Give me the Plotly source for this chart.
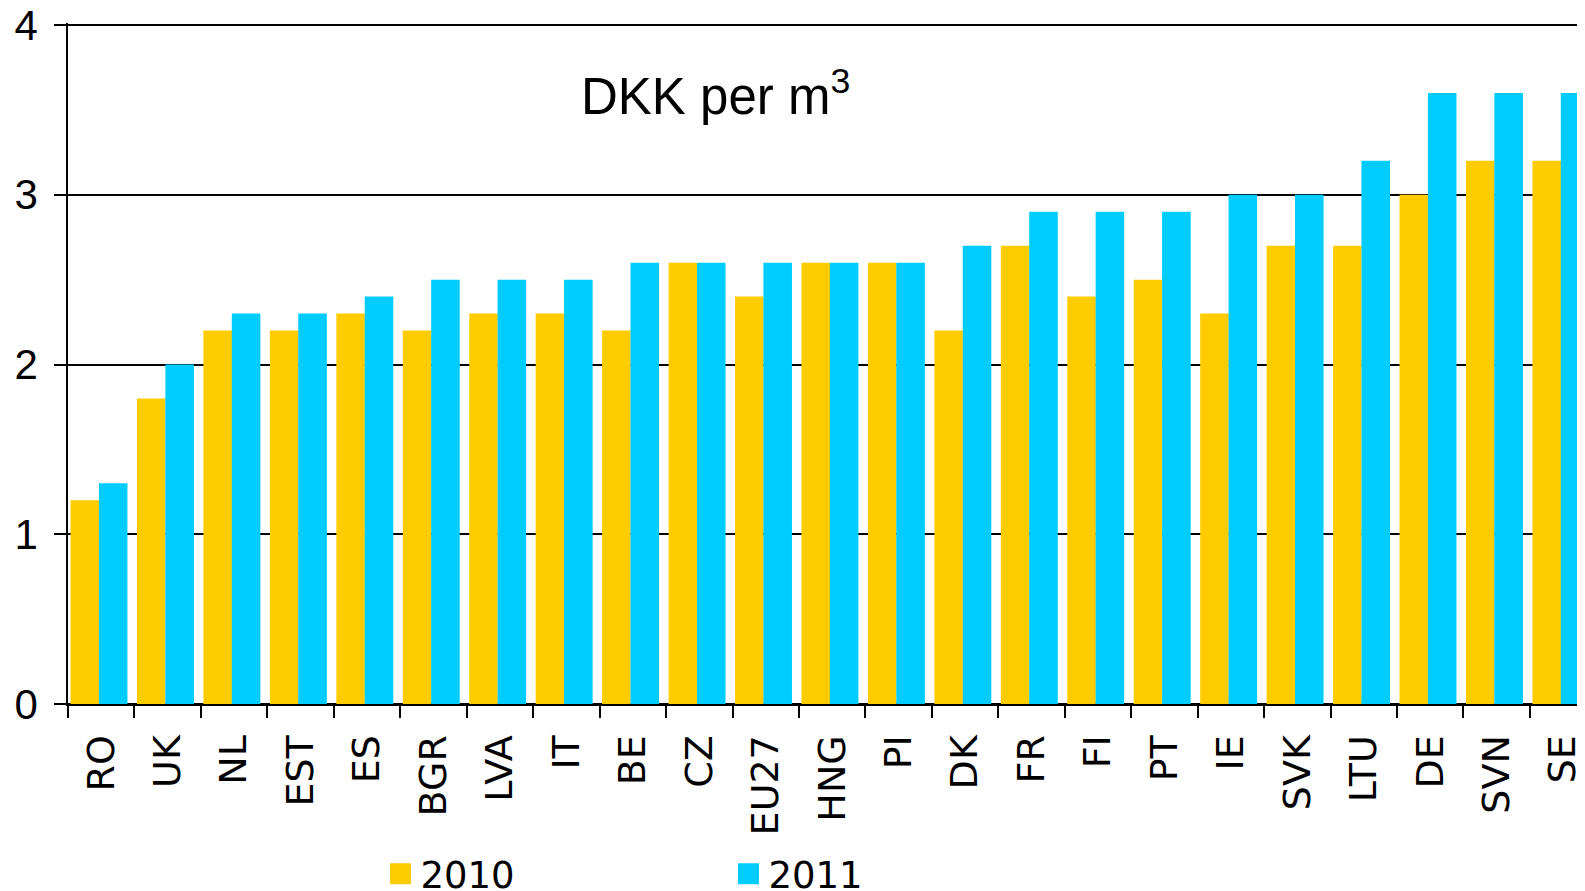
import plotly.graph_objects as go

categories = ["RO", "UK", "NL", "EST", "ES", "BGR", "LVA", "IT", "BE", "CZ", "EU27", "HNG",
              "PI", "DK", "FR", "FI", "PT", "IE", "SVK", "LTU", "DE", "SVN", "SE"]
values_2010 = [1.2, 1.8, 2.2, 2.2, 2.3, 2.2, 2.3, 2.3, 2.2, 2.6, 2.4, 2.6,
               2.6, 2.2, 2.7, 2.4, 2.5, 2.3, 2.7, 2.7, 3.0, 3.2, 3.2]
values_2011 = [1.3, 2.0, 2.3, 2.3, 2.4, 2.5, 2.5, 2.5, 2.6, 2.6, 2.6, 2.6,
               2.6, 2.7, 2.9, 2.9, 2.9, 3.0, 3.0, 3.2, 3.6, 3.6, 3.6]
series_names = ["2010", "2011"]
colors = ["#FFCC00", "#00CCFF"]
y_ticks = [0, 1, 2, 3, 4]

# page body has an 8px margin; figure sized to end at the window edge
W, H = 1577, 883
ML, MT, MB = 60, 15, 187
slot = 66.45
x_end = -0.5 + (W - ML) / slot

fig = go.Figure()
fig.add_trace(go.Bar(x=categories, y=values_2010, name=series_names[0], showlegend=False,
                     marker=dict(color=colors[0], line=dict(width=0)),
                     width=0.43, offset=-0.462))
fig.add_trace(go.Bar(x=categories, y=values_2011, name=series_names[1], showlegend=False,
                     marker=dict(color=colors[1], line=dict(width=0)),
                     width=0.43, offset=-0.035))
# legend entries (square swatches)
for name, col in zip(series_names, colors):
    fig.add_trace(go.Scatter(x=[None], y=[None], mode="markers", name=name,
                             marker=dict(symbol="square", size=25, color=col,
                                         line=dict(color=col, width=8))))

fig.update_layout(
    width=W, height=H,
    margin=dict(l=ML, r=0, t=MT, b=MB, pad=0, autoexpand=False),
    plot_bgcolor="white", paper_bgcolor="white",
    barmode="overlay",
    showlegend=True,
    legend=dict(orientation="h", x=0.206, xanchor="left", y=-0.25, yanchor="middle",
                font=dict(family="DejaVu Sans", size=37, color="black"),
                entrywidth=303, entrywidthmode="pixels", itemsizing="trace",
                bgcolor="rgba(0,0,0,0)"),
    xaxis=dict(type="category", range=[-0.5, x_end], showgrid=False, automargin=False,
               showline=True, linecolor="black", linewidth=2,
               ticks="outside", ticklen=12, tickwidth=1.5, tickcolor="black",
               tickson="boundaries", tickangle=-90, ticklabelstandoff=14,
               ticklabeloverflow="allow",
               tickfont=dict(family="DejaVu Sans", size=38, color="black")),
    yaxis=dict(range=[0, 4.012], tickvals=y_ticks, showgrid=True, gridcolor="black", gridwidth=2,
               automargin=False,
               showline=True, linecolor="black", linewidth=1.5,
               zeroline=True, zerolinecolor="black", zerolinewidth=2,
               ticks="outside", ticklen=12, tickwidth=1.5, tickcolor="black",
               ticklabelstandoff=8, ticklabeloverflow="allow",
               tickfont=dict(family="Liberation Sans, Arial", size=42, color="black")),
    annotations=[dict(text="DKK per m<sup>3</sup>", x=0.4265, xref="paper", y=3.6, yref="y",
                      xanchor="center", yanchor="middle", showarrow=False,
                      font=dict(family="Liberation Sans, Arial", size=51, color="black"))],
)

fig.write_html("out.html")
